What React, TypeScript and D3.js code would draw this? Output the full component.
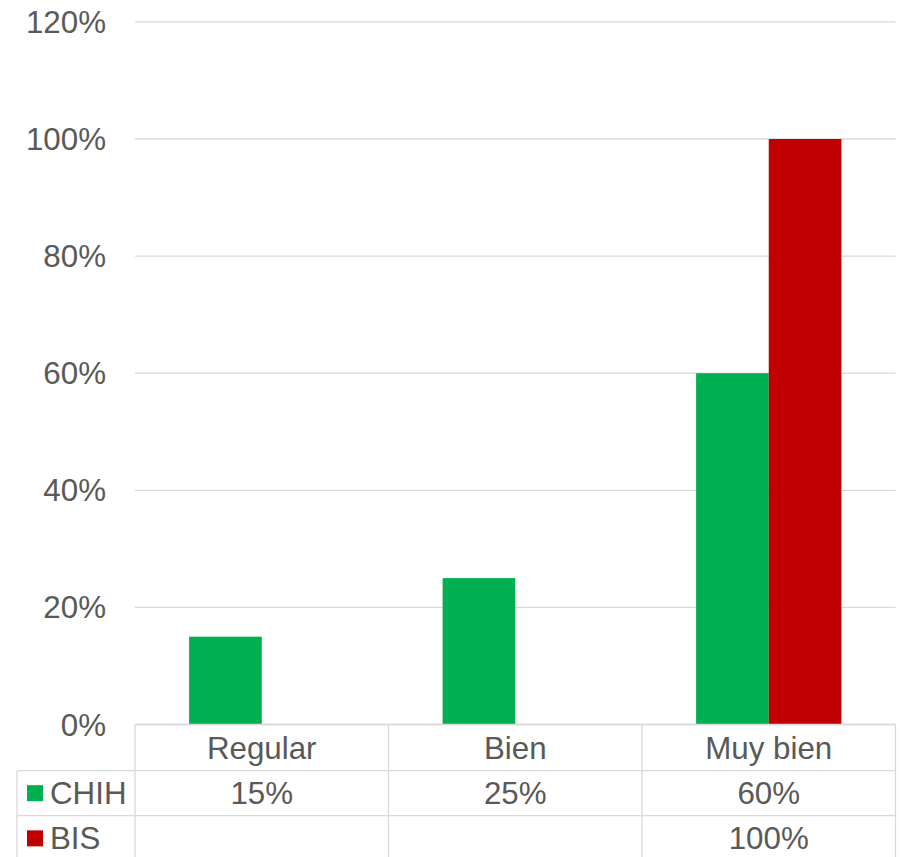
import React from "react";
import * as d3 from "d3";

const categories = ["Regular", "Bien", "Muy bien"];
const seriesNames = ["CHIH", "BIS"];
const chihValues: (number | null)[] = [0.15, 0.25, 0.6];
const bisValues: (number | null)[] = [null, null, 1.0];
const seriesColors = ["#00B050", "#C00000"];
const yTicks = [0, 0.2, 0.4, 0.6, 0.8, 1.0, 1.2];

const W = 905;
const H = 857;
const plotLeft = 135;
const plotRight = 895.5;
const plotTop = 21.9;
const plotBottom = 724.5;
const row1 = 770.7;
const row2 = 815.7;
const row3 = 861;
const tableLeft = 17;
const font = "'Liberation Sans', Arial, sans-serif";
const textColor = "#595959";
const gridColor = "#D9D9D9";
const fs = 31.3;

export default function App() {
  const seriesValues = [chihValues, bisValues];
  const y = d3.scaleLinear().domain([0, 1.2]).range([plotBottom, plotTop]);
  const x = d3.scaleBand<string>().domain(categories).range([plotLeft, plotRight]).paddingInner(0).paddingOuter(0);
  const bw = x.bandwidth();
  const barW = bw / (2 + 1.49);
  const inner = d3
    .scaleBand<string>()
    .domain(seriesNames)
    .range([(bw - 2 * barW) / 2, (bw + 2 * barW) / 2])
    .padding(0);
  const fmt = (v: number) => `${Math.round(v * 100)}%`;
  const rows = [
    [row1, row2],
    [row2, row3],
  ];
  const cap = 22;

  return (
    <svg
      width={W}
      height={H}
      style={{ position: "absolute", left: 0, top: 0, background: "#fff" }}
      fontFamily={font}
    >
      {yTicks.map((t) => (
        <line key={t} x1={plotLeft} x2={plotRight} y1={y(t)} y2={y(t)} stroke={gridColor} strokeWidth={1.3} />
      ))}
      {yTicks.map((t) => (
        <text key={"l" + t} x={106} y={y(t) + cap / 2} textAnchor="end" fontSize={fs} fill={textColor}>
          {fmt(t)}
        </text>
      ))}
      {seriesValues.map((vals, si) =>
        vals.map((v, ci) =>
          v == null ? null : (
            <rect
              key={`${si}-${ci}`}
              x={(x(categories[ci]) ?? 0) + (inner(seriesNames[si]) ?? 0)}
              y={y(v)}
              width={inner.bandwidth()}
              height={y(0) - y(v)}
              fill={seriesColors[si]}
            />
          )
        )
      )}
      <line x1={plotLeft} x2={plotRight} y1={plotBottom} y2={plotBottom} stroke={gridColor} strokeWidth={1.3} />
      <line x1={tableLeft} x2={plotRight} y1={row1} y2={row1} stroke={gridColor} strokeWidth={1.3} />
      <line x1={tableLeft} x2={plotRight} y1={row2} y2={row2} stroke={gridColor} strokeWidth={1.3} />
      <line x1={tableLeft} x2={plotRight} y1={row3} y2={row3} stroke={gridColor} strokeWidth={1.3} />
      <line x1={tableLeft} x2={tableLeft} y1={row1} y2={row3} stroke={gridColor} strokeWidth={1.3} />
      {categories.map((c) => (
        <line key={"v" + c} x1={x(c)} x2={x(c)} y1={plotBottom} y2={row3} stroke={gridColor} strokeWidth={1.3} />
      ))}
      <line x1={plotRight} x2={plotRight} y1={plotBottom} y2={row3} stroke={gridColor} strokeWidth={1.3} />
      {categories.map((c) => (
        <text
          key={"c" + c}
          x={(x(c) ?? 0) + bw / 2}
          y={(plotBottom + row1) / 2 + cap / 2}
          textAnchor="middle"
          fontSize={fs}
          fill={textColor}
        >
          {c}
        </text>
      ))}
      {seriesNames.map((s, si) => {
        const [r0, r1] = rows[si];
        const cy = (r0 + r1) / 2;
        return (
          <g key={"s" + s}>
            <rect x={27} y={cy - 8} width={16} height={16} fill={seriesColors[si]} />
            <text x={50} y={cy + cap / 2} fontSize={fs} fill={textColor}>
              {s}
            </text>
            {seriesValues[si].map((v, ci) =>
              v == null ? null : (
                <text
                  key={"t" + ci}
                  x={(x(categories[ci]) ?? 0) + bw / 2}
                  y={cy + cap / 2}
                  textAnchor="middle"
                  fontSize={fs}
                  fill={textColor}
                >
                  {fmt(v)}
                </text>
              )
            )}
          </g>
        );
      })}
    </svg>
  );
}
